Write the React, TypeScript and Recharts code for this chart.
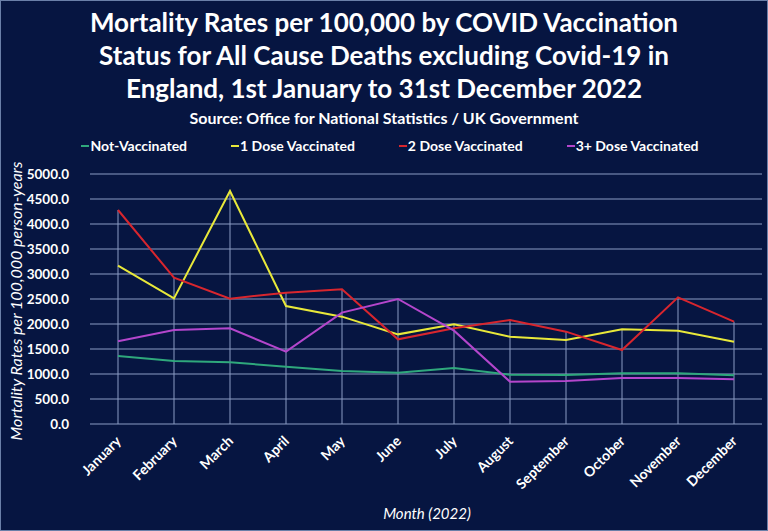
import React from "react";
import { ComposedChart, Line, Bar, XAxis, YAxis, CartesianGrid } from "recharts";

document.body.style.margin = "0";

const months = [
  "January", "February", "March", "April", "May", "June",
  "July", "August", "September", "October", "November", "December",
];
const notVaccinated = [1360, 1260, 1233, 1147, 1060, 1027, 1120, 987, 980, 1013, 1013, 973];
const oneDose = [3167, 2513, 4660, 2360, 2147, 1793, 1993, 1747, 1680, 1893, 1867, 1647];
const twoDose = [4280, 2927, 2507, 2627, 2693, 1693, 1913, 2080, 1847, 1480, 2533, 2047];
const threeDose = [1653, 1880, 1913, 1447, 2227, 2500, 1867, 847, 860, 920, 920, 893];
const yTicks = [0, 500, 1000, 1500, 2000, 2500, 3000, 3500, 4000, 4500, 5000];

const series = [
  { key: "notVaccinated", name: "Not-Vaccinated", color: "#2fa87c" },
  { key: "oneDose", name: "1 Dose Vaccinated", color: "#e8e83a" },
  { key: "twoDose", name: "2 Dose Vaccinated", color: "#d8262e" },
  { key: "threeDose", name: "3+ Dose Vaccinated", color: "#b446cc" },
];

const data = months.map((m, i) => ({
  month: m,
  notVaccinated: notVaccinated[i],
  oneDose: oneDose[i],
  twoDose: twoDose[i],
  threeDose: threeDose[i],
  // drop line from highest value down to the axis
  drop: Math.max(notVaccinated[i], oneDose[i], twoDose[i], threeDose[i]),
}));

const BG = "#061541";
const GRID = "#8a9cc4";
const FONT = "Lato, 'Open Sans', sans-serif";

function MonthTick({ x, y, payload }: any) {
  return (
    <text
      x={x + 4}
      y={y + 10}
      transform={`rotate(-45 ${x + 4} ${y + 10})`}
      textAnchor="end"
      fill="#ffffff"
      fontSize={14}
      fontWeight={700}
      fontFamily={FONT}
    >
      {payload.value}
    </text>
  );
}

function DropLine(props: any) {
  const { x, y, width, height } = props;
  const cx = x + width / 2;
  return <line x1={cx} x2={cx} y1={y} y2={y + height} stroke={GRID} strokeWidth={1} />;
}

export default function App() {
  return (
    <div style={{ position: "relative", width: 768, height: 531, background: BG, boxSizing: "border-box", border: "1px solid #6a7fa8", overflow: "hidden" }}>
      <div style={{ position: "absolute", top: 5, left: 0, width: 766, textAlign: "center", color: "#fff", fontFamily: FONT, fontWeight: 700, fontSize: 26, lineHeight: "33px" }}>
        Mortality Rates per 100,000 by COVID Vaccination<br />
        Status for All Cause Deaths excluding Covid-19 in<br />
        England, 1st January to 31st December 2022
      </div>
      <div style={{ position: "absolute", top: 107, left: 0, width: 766, textAlign: "center", color: "#fff", fontFamily: FONT, fontWeight: 700, fontSize: 16 }}>
        Source: Office for National Statistics / UK Government
      </div>
      <div style={{ position: "absolute", top: 136, left: 0, width: 778, display: "flex", justifyContent: "center", gap: 44, fontFamily: FONT, fontWeight: 700, fontSize: 14, color: "#fff" }}>
        {series.map((s) => (
          <span key={s.key} style={{ display: "flex", alignItems: "center" }}>
            <span style={{ display: "inline-block", width: 8, height: 2, background: s.color, marginRight: 1 }} />
            {s.name}
          </span>
        ))}
      </div>
      <div style={{ position: "absolute", top: 300, left: 14, width: 0, height: 0 }}>
        <div style={{ position: "absolute", transform: "translate(-50%, -50%) rotate(-90deg)", whiteSpace: "nowrap", color: "#fff", fontFamily: FONT, fontStyle: "italic", fontSize: 16 }}>
          Mortality Rates per 100,000 person-years
        </div>
      </div>
      <div style={{ position: "absolute", top: 503, left: 0, width: 852, textAlign: "center", color: "#fff", fontFamily: FONT, fontStyle: "italic", fontSize: 15 }}>
        Month (2022)
      </div>
      <ComposedChart
        width={766}
        height={529}
        data={data}
        margin={{ top: 173, right: 5, bottom: 0, left: 29 }}
        style={{ position: "absolute", top: 0, left: 0 }}
      >
        <CartesianGrid horizontal vertical={false} stroke={GRID} strokeWidth={1} />
        <XAxis
          dataKey="month"
          height={106}
          axisLine={false}
          tickLine={false}
          interval={0}
          tick={<MonthTick />}
        />
        <YAxis
          width={60}
          domain={[0, 5000]}
          ticks={yTicks}
          axisLine={false}
          tickLine={false}
          tickMargin={15}
          tickFormatter={(v: number) => v.toFixed(1)}
          tick={{ fill: "#ffffff", fontSize: 13.5, fontWeight: 700, fontFamily: FONT }}
        />
        <Bar dataKey="drop" barSize={2} shape={<DropLine />} isAnimationActive={false} />
        {series.map((s) => (
          <Line
            key={s.key}
            type="linear"
            dataKey={s.key}
            name={s.name}
            stroke={s.color}
            strokeWidth={2}
            dot={false}
            activeDot={false}
            isAnimationActive={false}
          />
        ))}
      </ComposedChart>
    </div>
  );
}
